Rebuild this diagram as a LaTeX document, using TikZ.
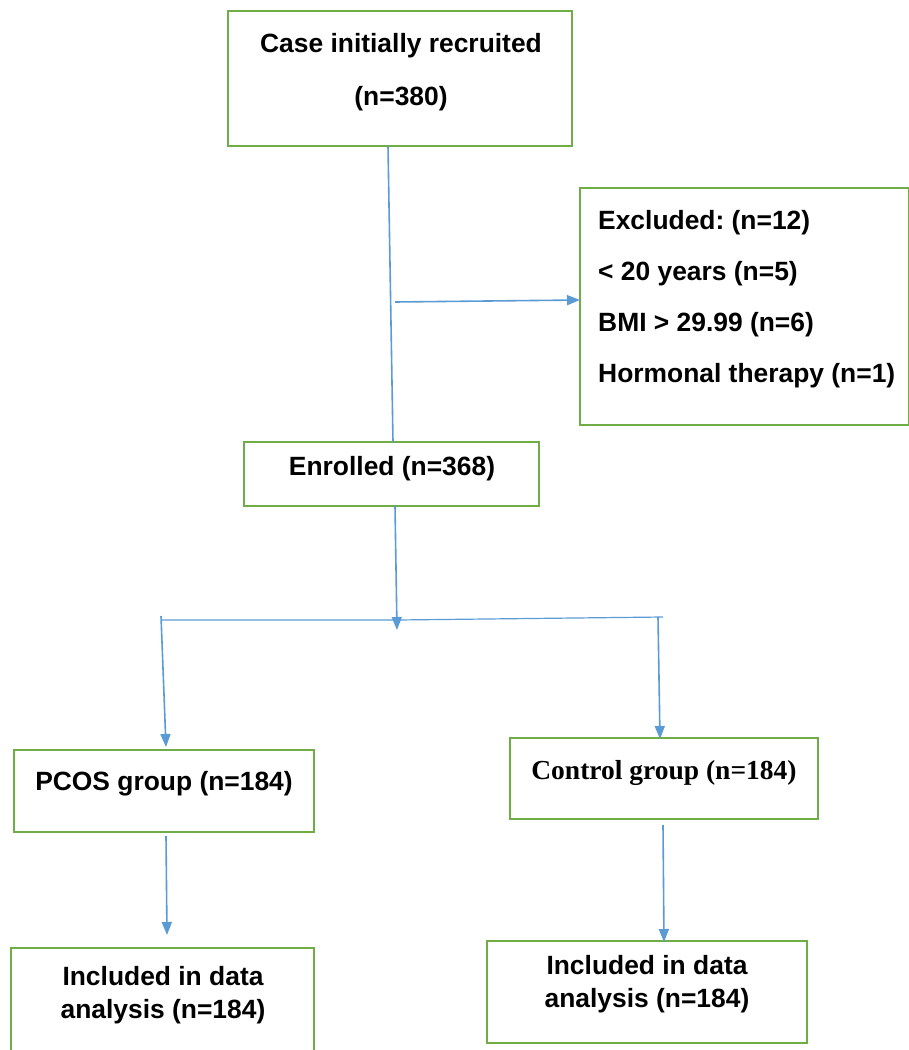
\documentclass[tikz,border=0pt]{standalone}
\usepackage{fontspec}
\setmainfont{Liberation Sans}
\newfontfamily\timesf{Liberation Serif}
\usetikzlibrary{arrows.meta}
\definecolor{boxgreen}{HTML}{70AD47}
\definecolor{lineblue}{HTML}{5B9BD5}
\frenchspacing
\begin{document}
\begin{tikzpicture}[x=1pt,y=-1pt,
  box/.style={draw=boxgreen,line width=2pt,inner sep=0pt},
  txt/.style={font=\fontsize{26.4}{31}\selectfont\bfseries,inner sep=0pt},
  conn/.style={draw=lineblue,line width=1.6pt},
  arr/.style={conn,-{Triangle[length=13pt,width=10pt]}}]
\useasboundingbox (0,0) rectangle (909,1050);
% boxes
\node[box,minimum width=344pt,minimum height=135pt] (top) at (400,78.5) {};
\node[box,minimum width=329pt,minimum height=237pt] (excl) at (744.5,306.5) {};
\node[box,minimum width=295pt,minimum height=64pt] (enr) at (391.5,474) {};
\node[box,minimum width=300pt,minimum height=82pt] (pcos) at (164,791) {};
\node[box,minimum width=308pt,minimum height=81pt] (ctrl) at (664,778.5) {};
\node[box,minimum width=303pt,minimum height=108pt] (incl) at (162.5,1002) {};
\node[box,minimum width=320pt,minimum height=102pt] (incr) at (647,992) {};
% texts
\node[txt] (t1) at (401,45.5) {Case initially recruited};
\node[txt] (t2) at (401,98.5) {(n=380)};
\node[txt,anchor=west] (e1) at (598,222.5) {Excluded: (n=12)};
\node[txt,anchor=west] (e2) at (598,273.5) {< 20 years (n=5)};
\node[txt,anchor=west] (e3) at (598,324.5) {BMI > 29.99 (n=6)};
\node[txt,anchor=west] (e4) at (598,375.5) {Hormonal therapy (n=1)};
\node[txt] (t3) at (392,468.5) {Enrolled (n=368)};
\node[txt] (t4) at (164,783.5) {PCOS group (n=184)};
\node[font=\timesf\fontsize{27.5}{31}\selectfont\bfseries,inner sep=0pt] (t5) at (664,772.5) {Control group (n=184)};
\node[txt,align=center] (t6) at (163,995.5) {Included in data\\[2pt]analysis (n=184)};
\node[txt,align=center] (t7) at (647,984.5) {Included in data\\[2pt]analysis (n=184)};
% coordinates
\coordinate (topout) at (388,146);
\coordinate (enrin) at (393,442);
\coordinate (br) at (395,302);
\coordinate (exin) at (580,300);
\coordinate (enrout) at (395,506);
\coordinate (split) at (397,630);
\coordinate (hl) at (161,620);
\coordinate (hm) at (397,620);
\coordinate (hr) at (663,617);
\coordinate (ltop) at (161,616);
\coordinate (lend) at (166,747);
\coordinate (rtop) at (658,617);
\coordinate (rend) at (660,739);
\coordinate (pout) at (166,836);
\coordinate (pend) at (167,935);
\coordinate (cout) at (663,825);
\coordinate (cend) at (664,942);
% connectors
\draw[conn] (topout) -- (enrin);
\draw[arr] (br) -- (exin);
\draw[arr] (enrout) -- (split);
\draw[conn,line width=1.2pt] (hl) -- (hm) -- (hr);
\draw[arr] (ltop) -- (lend);
\draw[arr] (rtop) -- (rend);
\draw[arr] (pout) -- (pend);
\draw[arr] (cout) -- (cend);
\end{tikzpicture}
\end{document}
